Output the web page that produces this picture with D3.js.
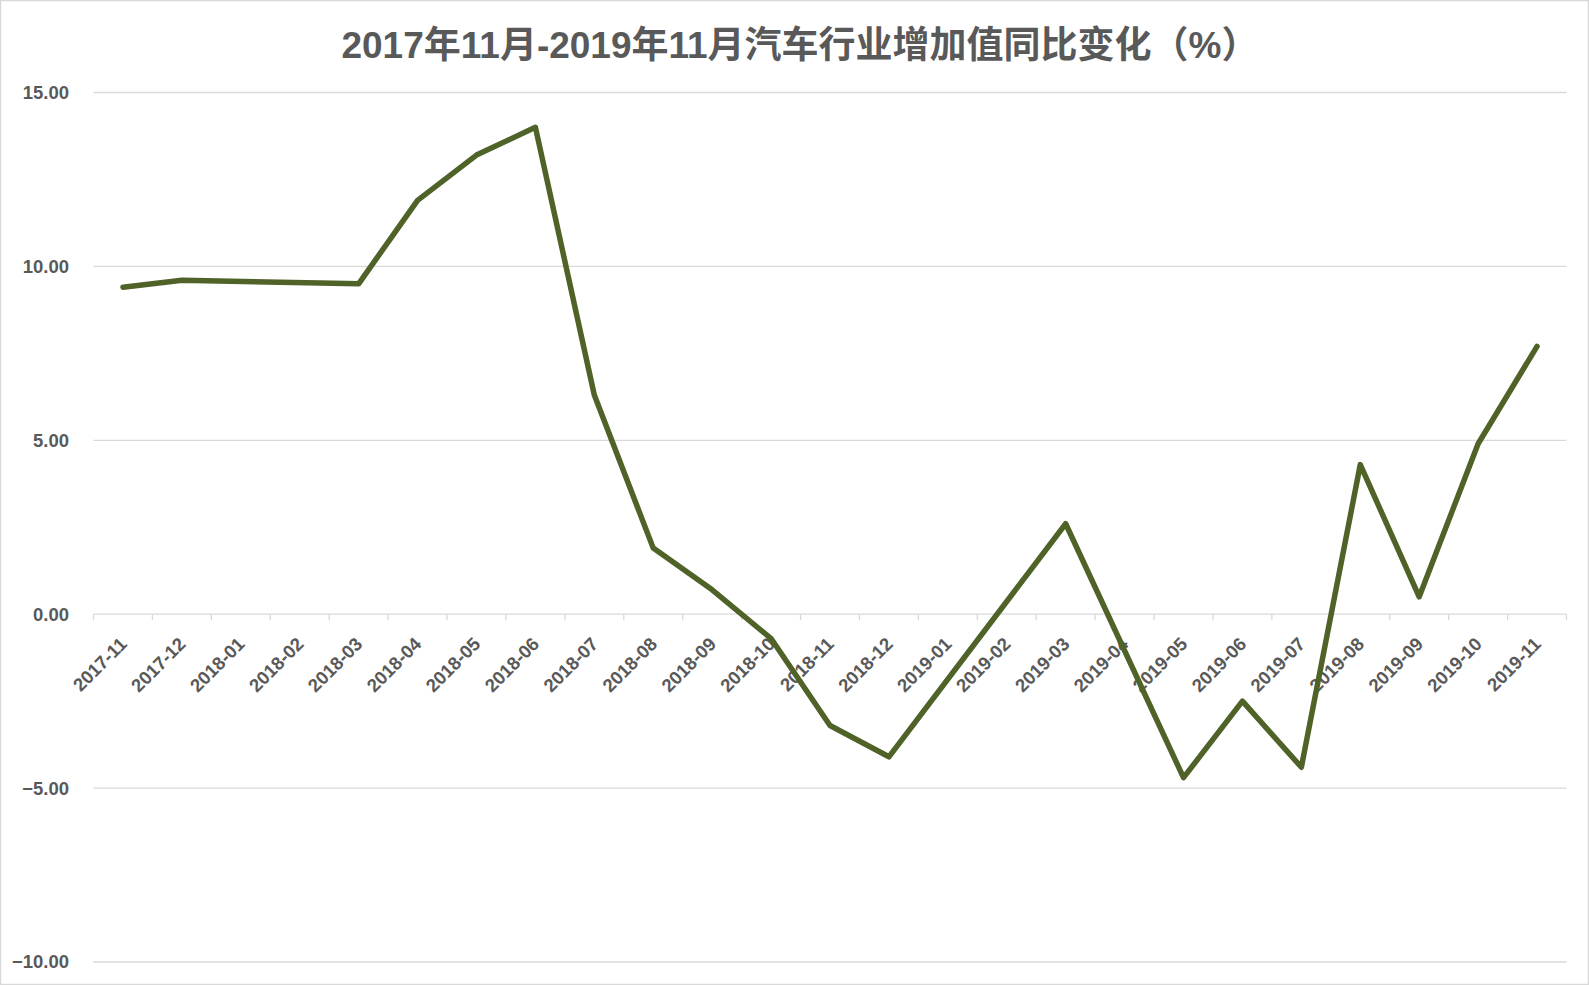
<!DOCTYPE html>
<html>
<head>
<meta charset="utf-8">
<script src="https://cdn.jsdelivr.net/npm/d3@7"></script>
<style>
  html, body { margin: 0; padding: 0; background: #ffffff; }
  svg { display: block; }
</style>
</head>
<body>
<svg id="chart" width="1589" height="985"></svg>
<script>
const titleText = "2017年11月-2019年11月汽车行业增加值同比变化（%）";
const categories = ["2017-11","2017-12","2018-01","2018-02","2018-03","2018-04","2018-05","2018-06","2018-07","2018-08","2018-09","2018-10","2018-11","2018-12","2019-01","2019-02","2019-03","2019-04","2019-05","2019-06","2019-07","2019-08","2019-09","2019-10","2019-11"];
// null = no data (line connects across the gap)
const values = [9.4, 9.6, null, null, 9.5, 11.9, 13.2, 14.0, 6.3, 1.9, 0.7, -0.7, -3.2, -4.1, null, null, 2.6, null, -4.7, -2.5, -4.4, 4.3, 0.5, 4.9, 7.7];
const yTicks = [-10, -5, 0, 5, 10, 15];

const W = 1589, H = 985;
const svg = d3.select("#chart");
const textColor = "#595959";
const gridColor = "#d9d9d9";
const lineColor = "#4f6228";
const latin = "'Liberation Sans', 'Noto Sans CJK SC', sans-serif";

svg.append("rect").attr("x", 0.5).attr("y", 0.5).attr("width", W - 1).attr("height", H - 1)
  .attr("fill", "#fff").attr("stroke", gridColor).attr("stroke-width", 1.5);

const x = d3.scaleBand().domain(categories).range([93.5, 1566.5]).padding(0);
const y = d3.scaleLinear().domain([-10, 15]).range([962, 92.5]);

// title
svg.append("text").attr("x", 800).attr("y", 58).attr("text-anchor", "middle")
  .attr("font-family", latin).attr("font-weight", "bold").attr("font-size", 37)
  .attr("fill", textColor).text(titleText);

// gridlines
svg.append("g").selectAll("line").data(yTicks).join("line")
  .attr("x1", x.range()[0]).attr("x2", x.range()[1])
  .attr("y1", d => y(d)).attr("y2", d => y(d))
  .attr("stroke", gridColor).attr("stroke-width", 1.3);

// y labels
svg.append("g").selectAll("text").data(yTicks).join("text")
  .attr("x", 69).attr("y", d => y(d)).attr("dy", "0.35em").attr("text-anchor", "end")
  .attr("font-family", latin).attr("font-weight", "bold").attr("font-size", 18.5)
  .attr("fill", textColor).text(d => d3.format(".2f")(d));

// x axis at zero with tick marks at band boundaries
const y0 = y(0);
const bounds = categories.map(c => x(c)).concat([x.range()[1]]);
svg.append("g").selectAll("line").data(bounds).join("line")
  .attr("x1", d => d).attr("x2", d => d).attr("y1", y0).attr("y2", y0 + 6)
  .attr("stroke", gridColor).attr("stroke-width", 1.3);

// x labels
svg.append("g").selectAll("text").data(categories).join("text")
  .attr("transform", d => `translate(${x(d) + x.bandwidth() / 2 + 5},${y0 + 31}) rotate(-45)`)
  .attr("text-anchor", "end")
  .attr("font-family", latin).attr("font-weight", "bold").attr("font-size", 18.5)
  .attr("fill", textColor).text(d => d);

// line (connect across missing data)
const pts = categories.map((c, i) => ({c, v: values[i]})).filter(d => d.v !== null);
const line = d3.line().x(d => x(d.c) + x.bandwidth() / 2).y(d => y(d.v));
svg.append("path").datum(pts).attr("d", line)
  .attr("fill", "none").attr("stroke", lineColor).attr("stroke-width", 5.5)
  .attr("stroke-linejoin", "round").attr("stroke-linecap", "round");
</script>
</body>
</html>
